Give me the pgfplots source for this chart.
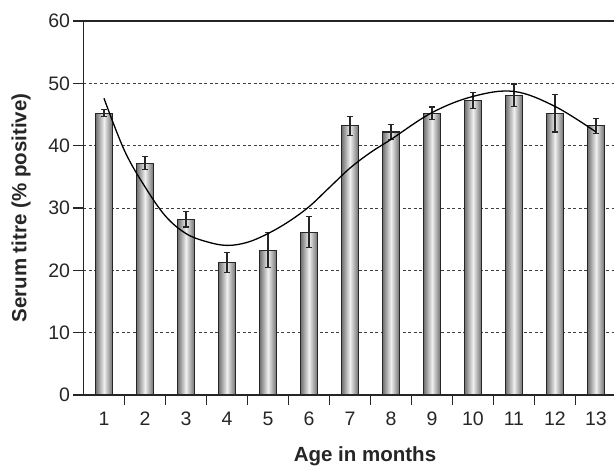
\documentclass[border=0pt]{standalone}
\usepackage{fontspec}
\setmainfont{Liberation Sans}
\usepackage{pgfplots}
\pgfplotsset{compat=1.18}
\pgfplotsset{
  shadedbar/.style={ybar, bar width=16.5pt, bar shift=0pt, draw=black!85, line width=1.1pt,
    left color=black!55, right color=black!55, middle color=black!6,
    error bars/.cd, y dir=both, y explicit,
    error bar style={line width=1.1pt, black!85},
    error mark options={rotate=90, mark size=3pt, line width=1.1pt, black!85}},
}
\begin{document}
\begin{tikzpicture}
\begin{axis}[
  at={(0,0)}, anchor=south west,
  scale only axis,
  width=530.5pt, height=374pt,
  xmin=0.5, xmax=13.44,
  ymin=0, ymax=60,
  axis lines=left,
  axis line style={-, line width=1.2pt, black!85},
  ytick={0,10,...,60},
  xtick={1.5,2.5,...,12.5},
  xticklabels={},
  extra x ticks={1,2,...,13},
  extra x tick style={major tick length=0pt, xticklabel style={yshift=-13.7pt}},
  tick align=outside,
  major tick length=10pt,
  tick style={black!85, line width=1.2pt},
  /pgf/number format/assume math mode=true,
  tick label style={font=\fontsize{19.5}{19.5}\selectfont, text=black!85},
  ymajorgrids,
  grid style={dashed, dash pattern=on 3pt off 2.5pt, line width=0.8pt, black!75},
  xlabel={\textbf{Age in months}},
  ylabel={\textbf{Serum titre (\% positive)}},
  label style={font=\fontsize{20.5}{20.5}\selectfont, text=black!85},
  xlabel style={at={(axis description cs:0.5306,-0.1783)}, anchor=base},
  ylabel style={at={(axis description cs:-0.1178,0.5)}, anchor=center},
  clip=false,
]
\addplot[shadedbar] coordinates {(1,45.2) +- (0,0.55)};
\addplot[shadedbar] coordinates {(2,37.2) +- (0,1.0)};
\addplot[shadedbar] coordinates {(3,28.2) +- (0,1.25)};
\addplot[shadedbar] coordinates {(4,21.2) +- (0,1.6)};
\addplot[shadedbar] coordinates {(5,23.2) +- (0,2.8)};
\addplot[shadedbar] coordinates {(6,26.1) +- (0,2.5)};
\addplot[shadedbar] coordinates {(7,43.2) +- (0,1.5)};
\addplot[shadedbar] coordinates {(8,42.2) +- (0,1.2)};
\addplot[shadedbar] coordinates {(9,45.2) +- (0,1.0)};
\addplot[shadedbar] coordinates {(10,47.3) +- (0,1.3)};
\addplot[shadedbar] coordinates {(11,48.1) +- (0,1.8)};
\addplot[shadedbar] coordinates {(12,45.2) +- (0,3.0)};
\addplot[shadedbar] coordinates {(13,43.2) +- (0,1.2)};
\addplot[smooth, tension=0.6, black, line width=1.3pt, no markers] coordinates {
(1,47.6) (1.5,39.2) (2,33.4) (2.5,28.7) (3,25.9) (3.5,24.6) (4,24.0)
(4.5,24.5) (5,25.9) (5.5,27.8) (6,30.2) (6.5,33.3) (7,36.4) (7.5,38.9) (8,41.0)
(9,45.3) (10,47.9) (11,48.7) (12,46.3) (13,42.2)
};
\draw[line width=1.2pt, black!85] (rel axis cs:0,1) -- (rel axis cs:1,1);
\end{axis}
\pgfresetboundingbox
\path[use as bounding box] (-83.5pt,-71pt) rectangle (530.5pt,395pt);
\end{tikzpicture}
\end{document}
